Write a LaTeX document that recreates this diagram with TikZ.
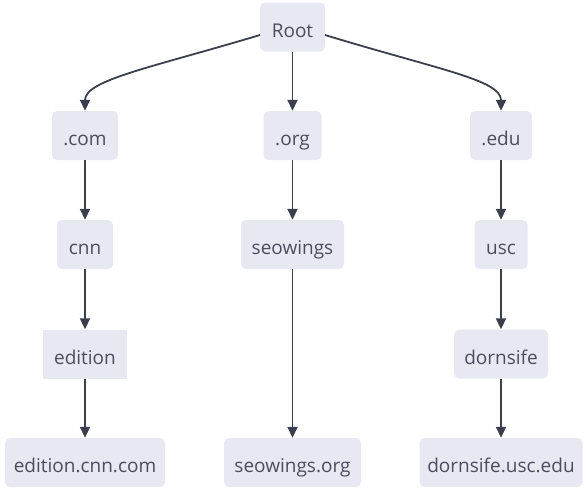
\documentclass[tikz,border=0pt]{standalone}
\usepackage{fontspec}
\setmainfont{Open Sans}
\usetikzlibrary{arrows.meta}
\definecolor{boxfill}{HTML}{E8E8F2}
\definecolor{txt}{HTML}{4A4E5C}
\definecolor{edge}{HTML}{3B3F4D}
\tikzset{
  box/.style={fill=boxfill, text=txt, rounded corners=5pt, inner sep=0pt,
    minimum height=49pt, text height=20.8pt, text depth=0pt,
    font=\fontsize{19}{22}\selectfont},
  sqbox/.style={box, rounded corners=0pt},
  link/.style={draw=edge, line width=1.8pt, -{Triangle[length=11pt,width=10pt]}},
}
\begin{document}
\begin{tikzpicture}[x=1pt,y=-1pt]
\useasboundingbox (0,0) rectangle (586,493);
\node[box, minimum width=65pt] (root) at (292.5,27) {Root};
\node[box, minimum width=66pt] (com) at (85,135.5) {.com};
\node[box, minimum width=58pt] (org) at (292.5,135.5) {.org};
\node[box, minimum width=62pt] (edu) at (501,135.5) {.edu};
\node[box, minimum width=56pt] (cnn) at (85,244.5) {cnn};
\node[box, minimum width=103pt] (seo) at (292.5,244.5) {seowings};
\node[box, minimum width=53pt] (usc) at (501,244.5) {usc};
\node[sqbox, minimum width=84pt] (edition) at (85,354) {edition};
\node[box, minimum width=94pt] (dorn) at (501,354) {dornsife};
\node[box, minimum width=160pt] (ecc) at (85,462.5) {edition.cnn.com};
\node[box, minimum width=137pt] (seoorg) at (292.5,462.5) {seowings.org};
\node[box, minimum width=163pt] (dus) at (501,462.5) {dornsife.usc.edu};
\coordinate (rl) at (260,35);
\coordinate (rr) at (325,35);
\draw[link] (rl) .. controls (150,68) and (85,80) .. (com.north);
\draw[link] (rr) .. controls (440,70) and (501,80) .. (edu.north);
\draw[link] (root) -- (org);
\draw[link] (com) -- (cnn);
\draw[link] (cnn) -- (edition);
\draw[link] (edition) -- (ecc);
\draw[link] (org) -- (seo);
\draw[link] (seo) -- (seoorg);
\draw[link] (edu) -- (usc);
\draw[link] (usc) -- (dorn);
\draw[link] (dorn) -- (dus);
\end{tikzpicture}
\end{document}
